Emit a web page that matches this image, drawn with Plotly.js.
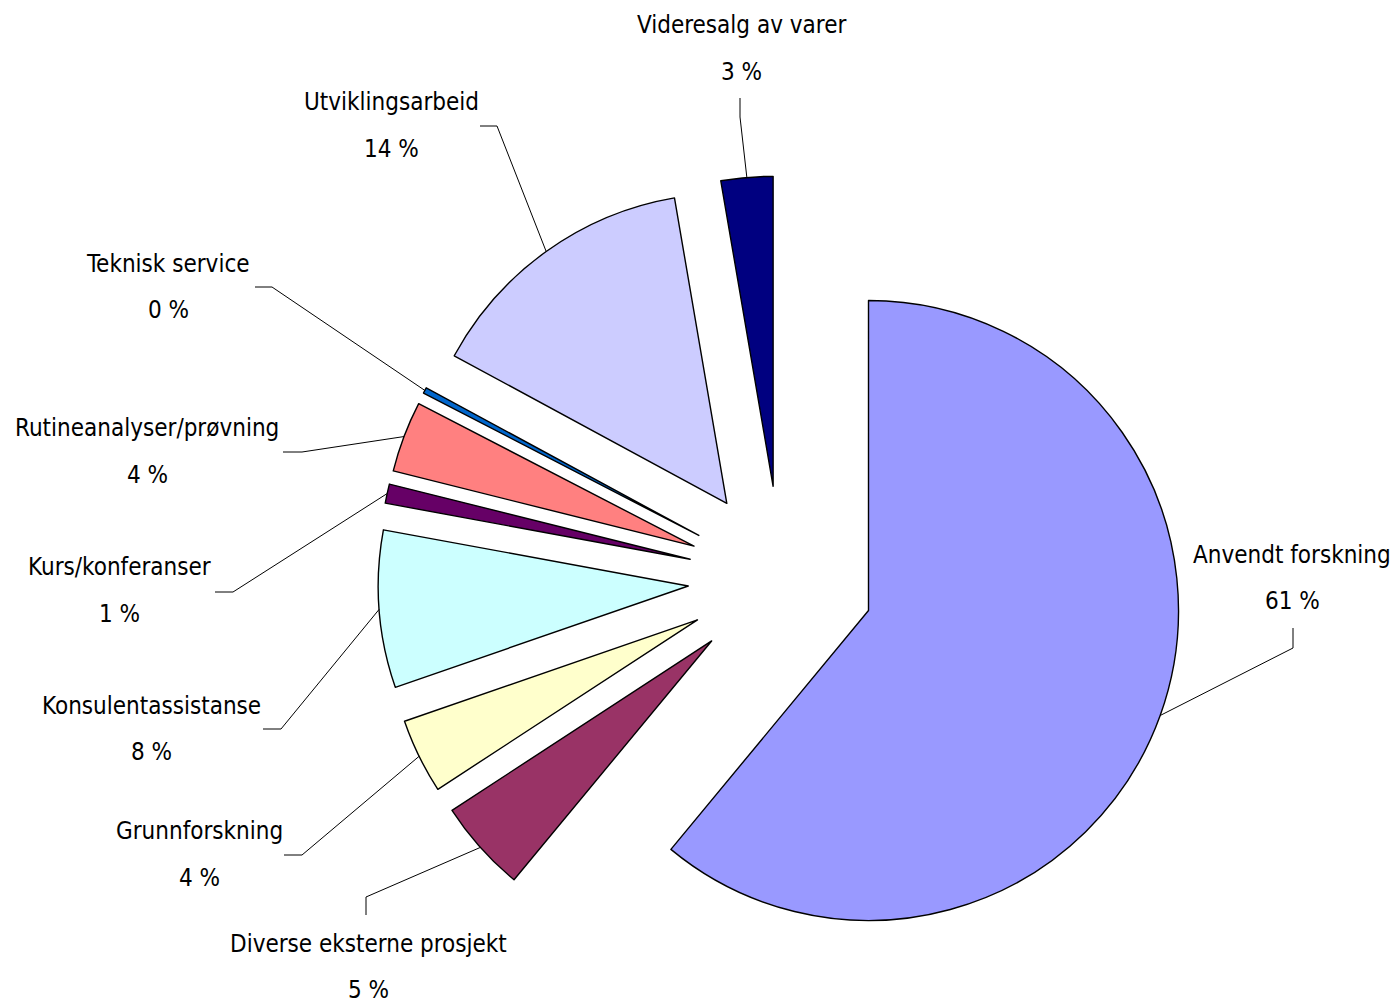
<!DOCTYPE html>
<html><head><meta charset="utf-8">
<script src="https://cdn.plot.ly/plotly-3.0.1.min.js"></script>
<style>html,body{margin:0;padding:0;background:#fff}#chart{width:1397px;height:1006px}
#chart text{font-stretch:semi-condensed !important}</style>
</head><body><div id="chart"></div>
<script>
// ---- data ----
const categories = ["Anvendt forskning", "Diverse eksterne prosjekt", "Grunnforskning", "Konsulentassistanse", "Kurs/konferanser", "Rutineanalyser/prøvning", "Teknisk service", "Utviklingsarbeid", "Videresalg av varer"];
const shares = [61.0, 4.8, 3.9, 8.2, 1.0, 3.7, 0.3, 14.4, 2.7];
const colors = ["#9999FF", "#993366", "#FFFFCC", "#CCFFFF", "#660066", "#FF8080", "#0066CC", "#CCCCFF", "#000080"];

// ---- layout (pixels) ----
const W = 1397, H = 1006;
const CX = 781, CY = 579, R = 310, PULL = 0.3;
const labelX = [1292, 368, 199, 151, 119, 147, 168, 391, 741];
const nameY  = [555, 944, 831, 706, 567, 428, 264, 102, 25];
const pctY   = [601, 990, 878, 752, 614, 475, 310, 149, 72];
const elbowA = [[1293,648],[366,897],[302,855],[281,729],[233,592],[302,452],[272,287],[497,126],[740,117]];
const elbowB = [[1293,628],[366,915],[284,855],[263,729],[215,592],[283,452],[255,287],[480,126],[740,98]];

const FONT = {family: '"DejaVu Sans Condensed", "DejaVu Sans", sans-serif', size: 24, color: '#000'};
const px = x => x / W, py = y => 1 - y / H;

const total = shares.reduce((a, b) => a + b, 0);
const half = R * (1 + PULL);

const annotations = [];
const shapes = [];
let cum = 0;
shares.forEach((v, i) => {
  const mid = (cum + v / 2) / total * 2 * Math.PI;
  cum += v;
  const ax = CX + half * Math.sin(mid), ay = CY - half * Math.cos(mid);
  shapes.push({type: 'path', xref: 'paper', yref: 'paper',
    path: `M ${px(ax)} ${py(ay)} L ${px(elbowA[i][0])} ${py(elbowA[i][1])} L ${px(elbowB[i][0])} ${py(elbowB[i][1])}`,
    line: {color: '#000', width: 1}});
  annotations.push({xref: 'paper', yref: 'paper', x: px(labelX[i]), y: py(nameY[i]), text: categories[i],
    showarrow: false, xanchor: 'center', yanchor: 'middle', font: FONT});
  annotations.push({xref: 'paper', yref: 'paper', x: px(labelX[i]), y: py(pctY[i]), text: Math.round(v / total * 100) + ' %',
    showarrow: false, xanchor: 'center', yanchor: 'middle', font: FONT});
});

const trace = {
  type: 'pie', labels: categories, values: shares, sort: false, direction: 'clockwise', rotation: 0,
  pull: shares.map(() => PULL), textinfo: 'none', hoverinfo: 'label+percent',
  marker: {colors: colors, line: {color: '#000', width: 1.4}},
  domain: {x: [(CX - half) / W, (CX + half) / W], y: [(H - CY - half) / H, (H - CY + half) / H]}
};

Plotly.newPlot('chart', [trace], {
  width: W, height: H, margin: {l: 0, r: 0, t: 0, b: 0}, showlegend: false,
  paper_bgcolor: '#fff', plot_bgcolor: '#fff', annotations: annotations, shapes: shapes
}, {displayModeBar: false, staticPlot: true});
</script></body></html>
